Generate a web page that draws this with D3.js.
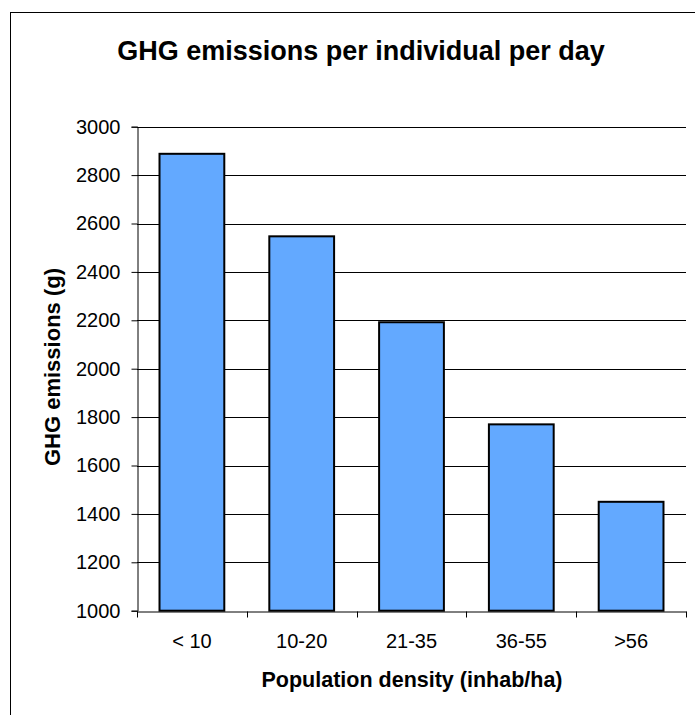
<!DOCTYPE html>
<html><head><meta charset="utf-8">
<script src="https://cdn.jsdelivr.net/npm/d3@7"></script>
<style>body{margin:0;background:#fff}svg{display:block}text{font-family:Arial,"Liberation Sans",sans-serif;fill:#000}</style>
</head><body><svg id="c" width="695" height="715"></svg>
<script>
const categories = ["< 10", "10-20", "21-35", "36-55", ">56"];
const values = [2888, 2547, 2192, 1770, 1450];
const yTicks = [1000, 1200, 1400, 1600, 1800, 2000, 2200, 2400, 2600, 2800, 3000];
const title = "GHG emissions per individual per day";
const xTitle = "Population density (inhab/ha)";
const yTitle = "GHG emissions (g)";

const svg = d3.select("#c");
svg.append("rect").attr("x",10.5).attr("y",12.5).attr("width",700).attr("height",720)
  .attr("fill","none").attr("stroke","#000").attr("stroke-width",1);

const L=137, R=686, T=126.7, B=610.7;
const x = d3.scaleBand().domain(categories).range([L,R]).paddingInner(0.41).paddingOuter(0.205);
const y = d3.scaleLinear().domain([1000,3000]).range([B,T]);

// gridlines
svg.append("g").selectAll("line").data(yTicks.slice(1)).join("line")
  .attr("x1",L).attr("x2",R).attr("y1",d=>Math.round(y(d))+0.5).attr("y2",d=>Math.round(y(d))+0.5)
  .attr("stroke","#000").attr("stroke-width",1);

// bars
svg.append("g").selectAll("rect").data(values).join("rect")
  .attr("x",(d,i)=>x(categories[i])).attr("width",x.bandwidth())
  .attr("y",d=>y(d)).attr("height",d=>y(1000)-y(d))
  .attr("fill","#63a9ff").attr("stroke","#000").attr("stroke-width",2);

// y axis
const ya = svg.append("g").attr("transform",`translate(${Math.round(L)+0.5},0)`)
  .call(d3.axisLeft(y).tickValues(yTicks).tickSize(6).tickPadding(11).tickFormat(d3.format("d")));
ya.select(".domain").attr("stroke","#000");
ya.selectAll(".tick line").attr("stroke","#000");
ya.selectAll("text").attr("font-size",20).attr("font-family","Arial,'Liberation Sans',sans-serif").attr("fill","#000");

// x axis
const xa = svg.append("g").attr("transform",`translate(0,${Math.round(B)+0.5})`)
  .call(d3.axisBottom(x).tickSize(0).tickPadding(22));
xa.select(".domain").attr("stroke","#000");
xa.selectAll("text").attr("font-size",20).attr("font-family","Arial,'Liberation Sans',sans-serif").attr("fill","#000");
// boundary ticks between categories
const bounds = categories.map(c=>x(c)-x.step()*x.paddingInner()/2).concat([R]);
xa.selectAll(".bt").data(bounds).join("line").attr("class","bt")
  .attr("x1",d=>Math.round(d)+0.5).attr("x2",d=>Math.round(d)+0.5).attr("y1",0).attr("y2",6).attr("stroke","#000");

svg.append("text").attr("x",361).attr("y",60).attr("text-anchor","middle")
  .attr("font-size",27).attr("font-weight","bold").text(title);
svg.append("text").attr("x",412).attr("y",687).attr("text-anchor","middle")
  .attr("font-size",21.5).attr("font-weight","bold").text(xTitle);
svg.append("text").attr("transform","translate(60,367) rotate(-90)").attr("text-anchor","middle")
  .attr("font-size",22).attr("font-weight","bold").text(yTitle);
</script></body></html>
